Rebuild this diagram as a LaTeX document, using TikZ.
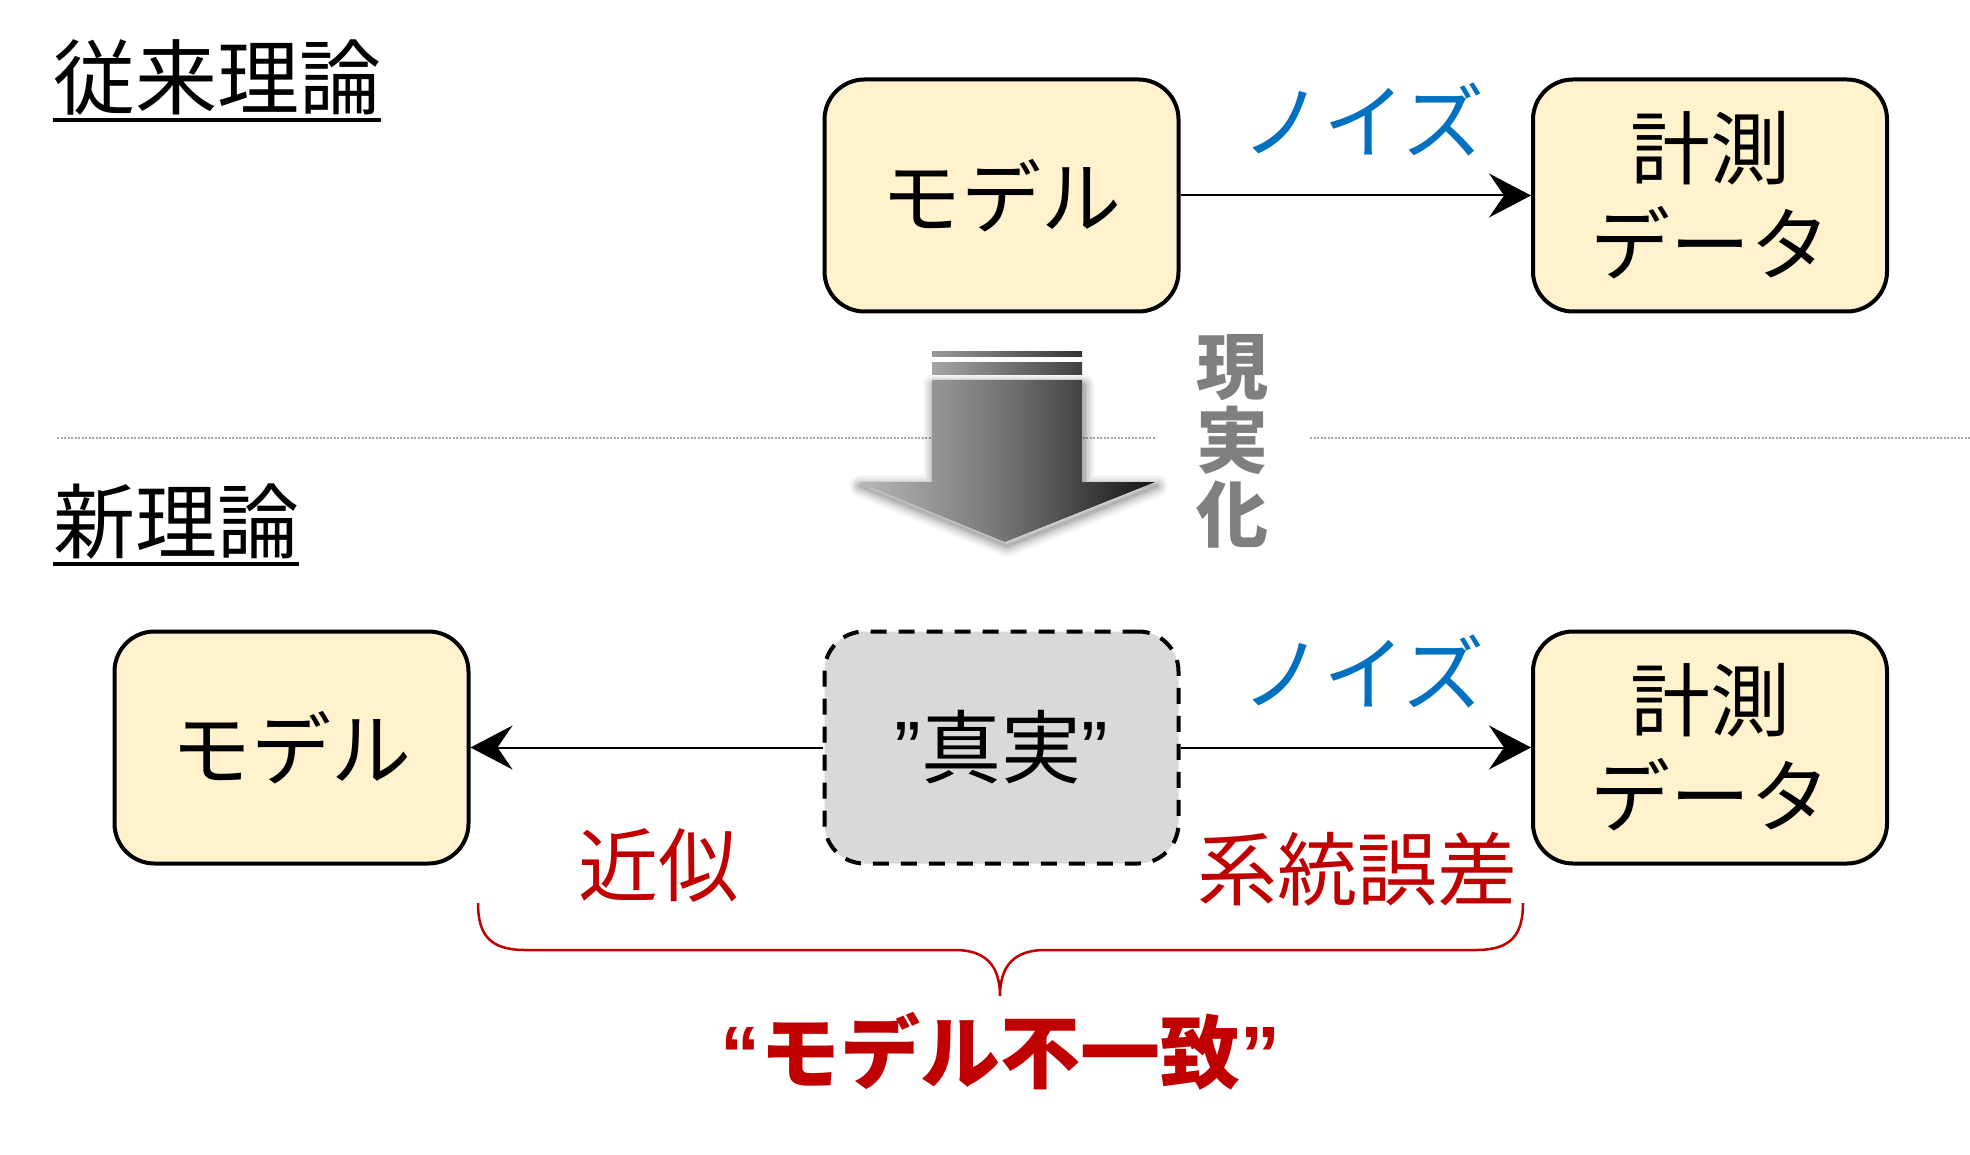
\documentclass[tikz,border=0pt]{standalone}
\usepackage{fontspec}
\newfontfamily\jp{Noto Sans CJK JP}
\newfontfamily\lat{Liberation Sans}
\usetikzlibrary{arrows.meta}
\definecolor{cream}{HTML}{FFF2CC}
\definecolor{truegray}{HTML}{D9D9D9}
\definecolor{noiseblue}{HTML}{0070C0}
\definecolor{darkred}{HTML}{C00000}
\definecolor{labelgray}{HTML}{7F7F7F}
\tikzset{
  box/.style={draw, line width=4pt, rounded corners=40pt, fill=cream,
    minimum width=354pt, minimum height=232pt, inner sep=0pt, align=center,
    font=\jp\fontsize{80}{96}\selectfont},
  truebox/.style={box, fill=truegray, dash pattern=on 16pt off 12pt},
  conn/.style={line width=2pt, -{Stealth[length=42pt, width=44pt, inset=15pt]}},
  heading/.style={inner sep=0pt, anchor=west, font=\jp\fontsize{82}{96}\selectfont},
  noise/.style={inner sep=0pt, text=noiseblue, font=\jp\fontsize{82}{96}\selectfont},
  redlabel/.style={inner sep=0pt, text=darkred, font=\jp\fontsize{80}{96}\selectfont},
  sep/.style={line width=1.3pt, black!35, dash pattern=on 2pt off 1.5pt},
}
\begin{document}
\begin{tikzpicture}[x=1pt,y=-1pt]
\useasboundingbox (0,0) rectangle (1970,1155);
\fill[white] (0,0) rectangle (1970,1155);

% headings
\node[heading] (h1) at (53,78) {従来理論};
\draw[line width=4pt] ([yshift=-4pt]h1.south west) -- ([yshift=-4pt]h1.south east);
\node[heading] (h2) at (53,522) {新理論};
\draw[line width=4pt] ([yshift=-4pt]h2.south west) -- ([yshift=-4pt]h2.south east);

% separator
\coordinate (s1) at (57,438);
\coordinate (s2) at (1155,438);
\coordinate (s3) at (1310,438);
\coordinate (s4) at (1970,438);
\draw[sep] (s1) -- (s2);
\draw[sep] (s3) -- (s4);

% big gray arrow with soft shadow
\foreach \w/\o in {22/0.03,18/0.04,14/0.05,10/0.06,6/0.07,3/0.08}{
  \draw[line width=\w pt, black, opacity=\o, line join=round]
    (934,385) -- (1084,385) -- (1084,486) -- (1157,486) -- (1007,546) -- (860,486) -- (934,486) -- cycle;
}
\shade[left color=black!28, right color=black!92, middle color=black!55]
  (932,380) -- (1082,380) -- (1082,482) -- (1155,482) -- (1005,542) -- (858,482) -- (932,482) -- cycle;
\shade[left color=black!35, right color=black!75] (932,363) rectangle (1082,375);
\shade[left color=black!40, right color=black!80] (932,352) rectangle (1082,357);

\node[inner sep=0pt, align=center, text=labelgray, font=\jp\bfseries\fontsize{72}{74}\selectfont] (real) at (1232,441) {現\\実\\化};

% top row
\node[box] (m1) at (1001.5,195.5) {モデル};
\node[box] (d1) at (1710,195.5) {計測\\データ};
\draw[conn] (m1.east) -- (d1.west);
\node[noise] (n1) at (1363,120) {ノイズ};

% bottom row
\node[box] (m2) at (291.5,747.5) {モデル};
\node[truebox] (t2) at (1001.5,747.5) {{\lat ”}真実{\lat ”}};
\node[box] (d2) at (1710,747.5) {計測\\データ};
\draw[conn] (t2.west) -- (m2.east);
\draw[conn] (t2.east) -- (d2.west);
\node[noise] (n2) at (1363,672) {ノイズ};

\node[redlabel] (approx) at (658,866) {近似};
\node[redlabel] (syserr) at (1357,869) {系統誤差};

% brace
\coordinate (bl) at (478,903);
\coordinate (bt) at (1000,996);
\coordinate (br) at (1523,903);
\draw[darkred, line width=2.5pt]
  (bl) .. controls (478,935) and (490,950) .. (525,950) -- (955,950)
  .. controls (985,950) and (1000,965) .. (bt)
  .. controls (1000,965) and (1015,950) .. (1045,950) -- (1476,950)
  .. controls (1511,950) and (1523,935) .. (br);

\node[inner sep=0pt, text=darkred, font=\jp\bfseries\fontsize{80}{96}\selectfont] (mis) at (1000,1051)
  {{\lat\bfseries “}モデル不一致{\lat\bfseries ”}};
\end{tikzpicture}
\end{document}
